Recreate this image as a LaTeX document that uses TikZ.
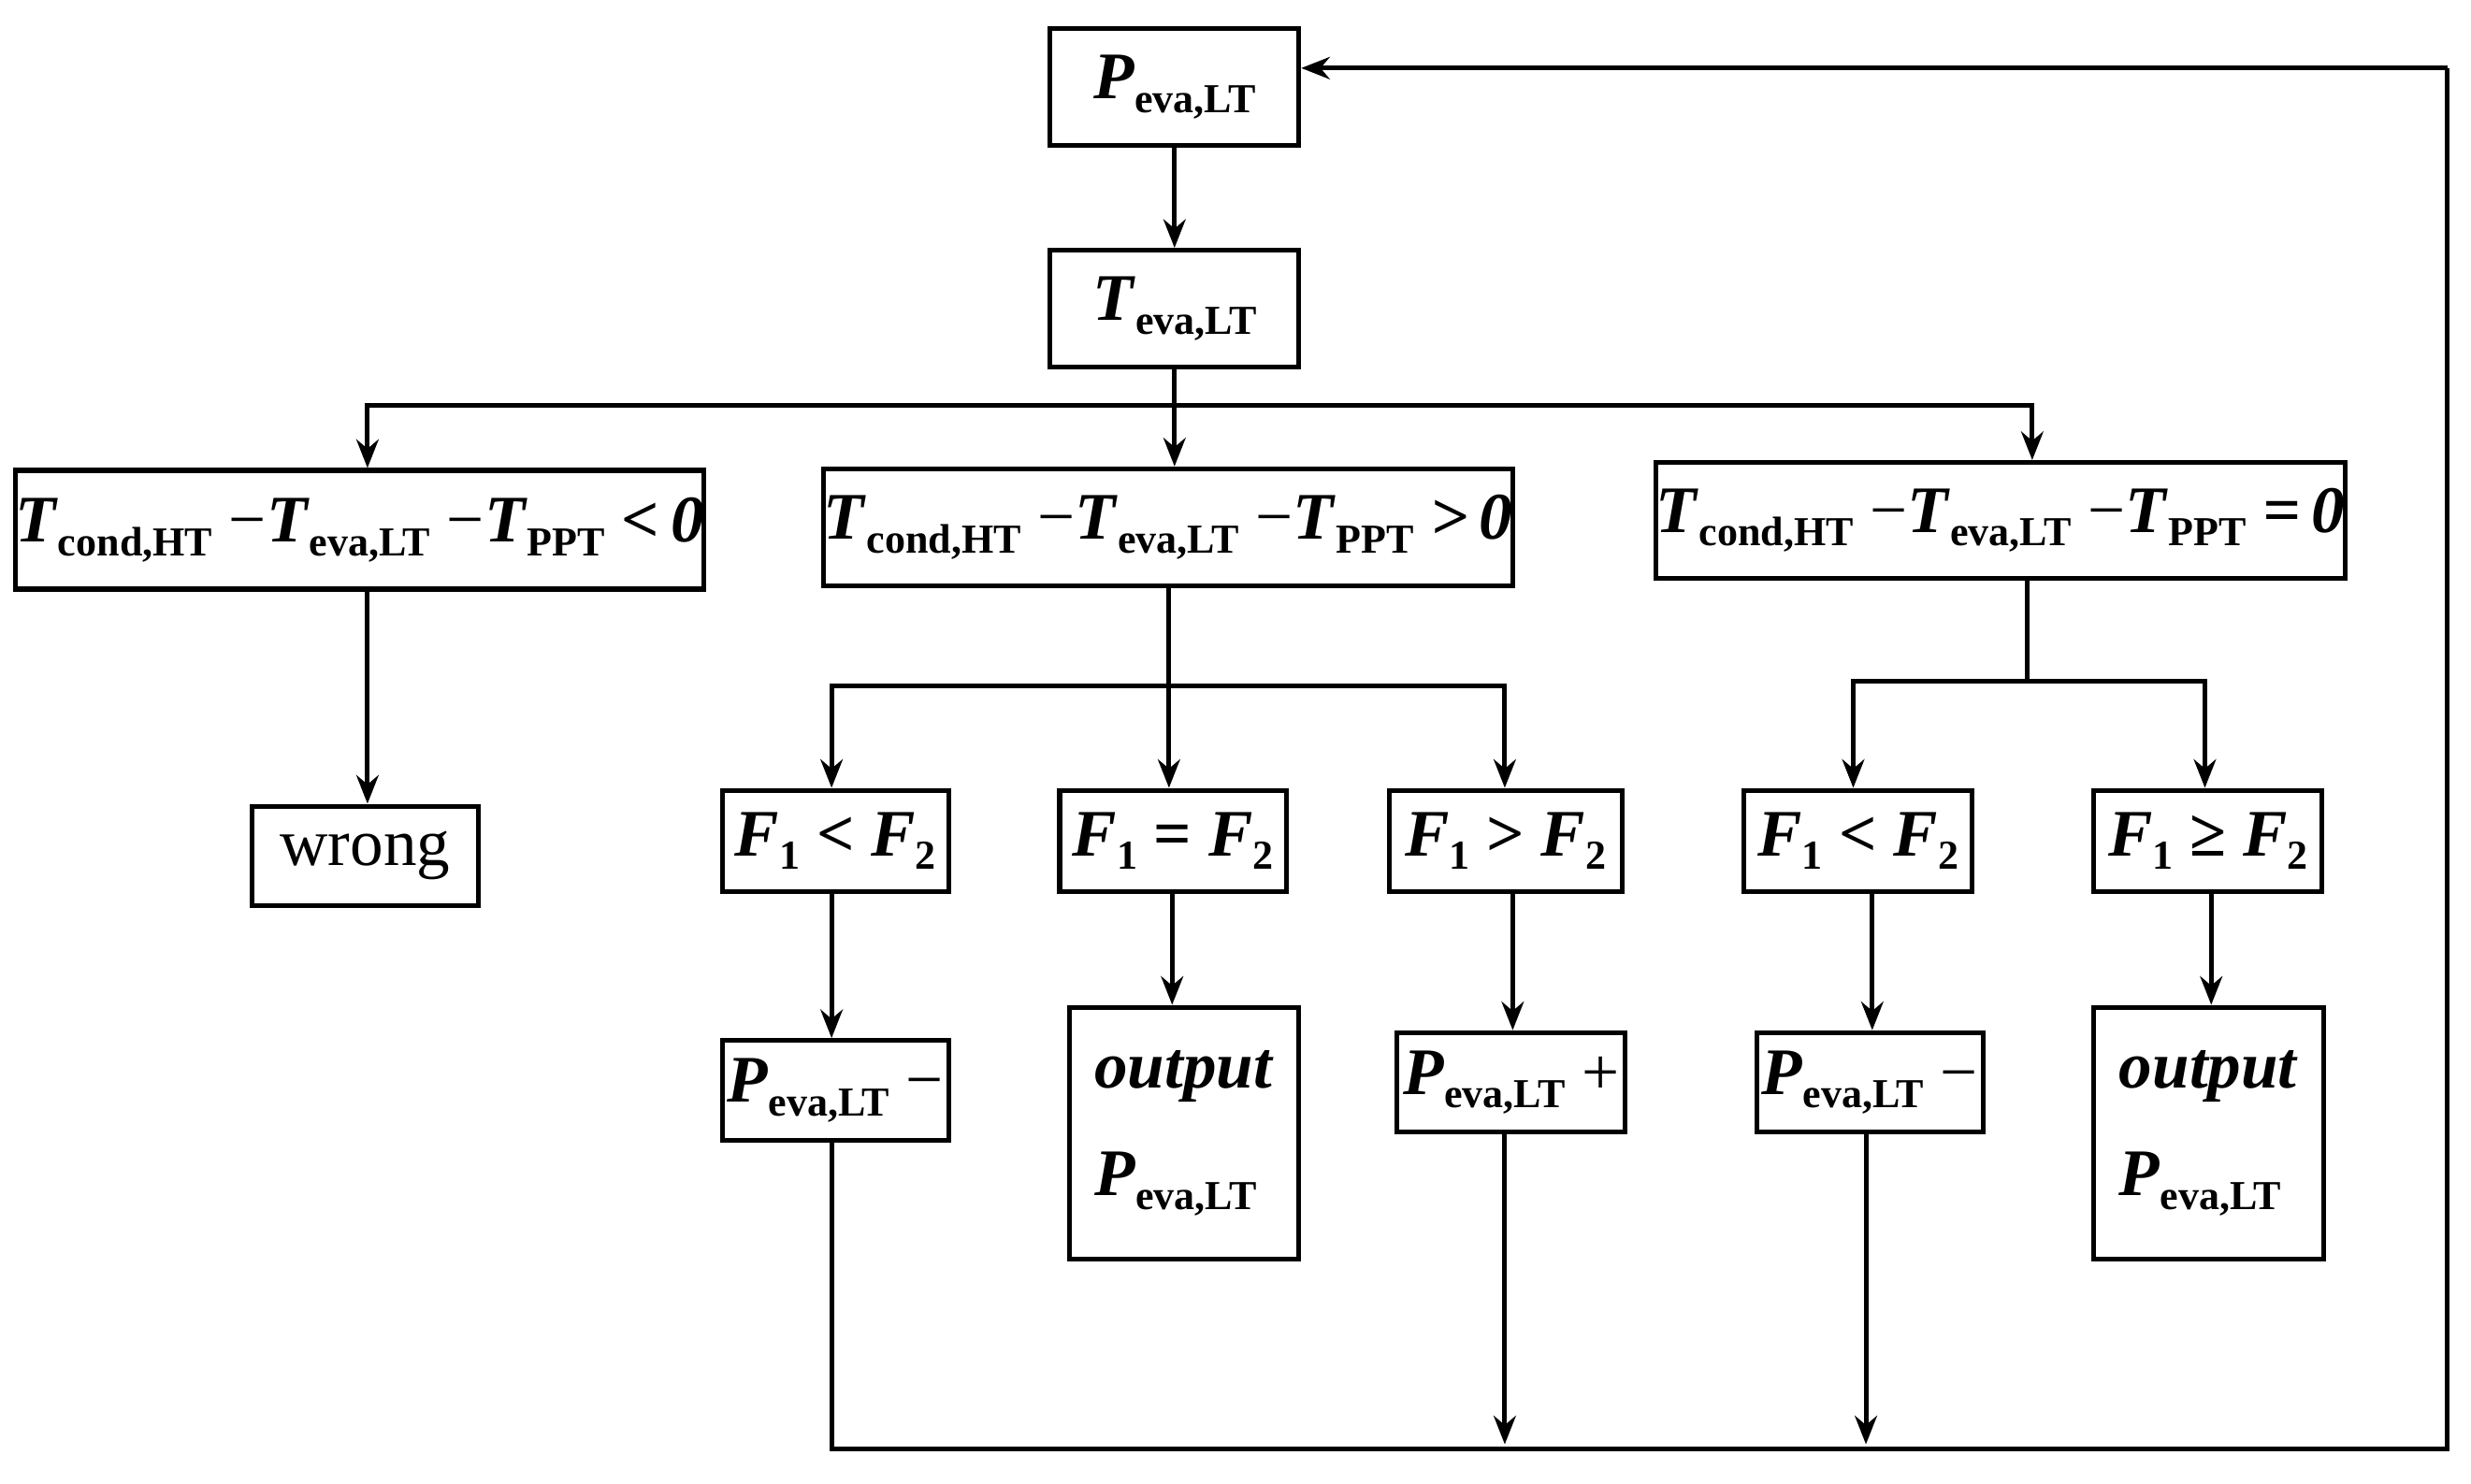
\documentclass[tikz,border=0pt]{standalone}
\usepackage{fontspec}
\setmainfont{Liberation Serif}
\usetikzlibrary{arrows.meta}
\newcommand{\V}[2]{\textbf{\textit{#1}}\raisebox{-0.45ex}{\fontsize{13}{14}\selectfont\textbf{#2}}}
\begin{document}
\begin{tikzpicture}[x=0.5pt,y=-0.5pt,
 bx/.style={draw,line width=1.5pt,inner sep=0pt,font=\fontsize{21}{24}\selectfont},
 ar/.style={line width=1.5pt,-{Stealth[length=9pt,width=7pt]}},
 ln/.style={line width=1.5pt}]
\useasboundingbox (0,0) rectangle (1560,937);
\node[bx,minimum width=78.5pt,minimum height=37pt] (p) at (741.5,55) {\V{P}{eva,LT}};
\node[bx,minimum width=78.5pt,minimum height=37pt] (t) at (741.5,195) {\V{T}{eva,LT}};
\node[bx,minimum width=213pt,minimum height=37.5pt] (c1) at (227,334.5) {\V{T}{cond,HT} −\V{T}{eva,LT} −\V{T}{PPT} \textbf{\textit{<\,0}}};
\node[bx,minimum width=212.5pt,minimum height=37pt] (c2) at (737.5,333) {\V{T}{cond,HT} −\V{T}{eva,LT} −\V{T}{PPT} \textbf{\textit{>\,0}}};
\node[bx,minimum width=213pt,minimum height=36.5pt] (c3) at (1263,328.5) {\V{T}{cond,HT} −\V{T}{eva,LT} −\V{T}{PPT} \textbf{\textit{=\,0}}};
\node[bx,minimum width=71.5pt,minimum height=31.5pt] (w) at (230.5,540.5) {wrong};
\node[bx,minimum width=71.5pt,minimum height=32pt] (f1) at (527.5,531) {\V{F}{1} \textbf{<} \V{F}{2}};
\node[bx,minimum width=71.5pt,minimum height=32pt] (f2) at (740.5,531) {\V{F}{1} \textbf{=} \V{F}{2}};
\node[bx,minimum width=73.5pt,minimum height=32pt] (f3) at (950.5,531) {\V{F}{1} \textbf{>} \V{F}{2}};
\node[bx,minimum width=72pt,minimum height=32pt] (f4) at (1173,531) {\V{F}{1} \textbf{<} \V{F}{2}};
\node[bx,minimum width=72pt,minimum height=32pt] (f5) at (1394,531) {\V{F}{1} \textbf{≥} \V{F}{2}};
\node[bx,minimum width=71.5pt,minimum height=31.5pt] (m1) at (527.5,688.5) {\V{P}{eva,LT} −};
\node[bx,minimum width=72.5pt,minimum height=79.5pt,align=left] (o1) at (747.5,715.5) {\textbf{\textit{output}}\\[10pt]\V{P}{eva,LT}};
\node[bx,minimum width=72pt,minimum height=31.5pt] (m2) at (954,683.5) {\V{P}{eva,LT} +};
\node[bx,minimum width=71.5pt,minimum height=31.5pt] (m3) at (1180.5,683.5) {\V{P}{eva,LT} −};
\node[bx,minimum width=72.5pt,minimum height=79.5pt,align=left] (o2) at (1394.5,715.5) {\textbf{\textit{output}}\\[10pt]\V{P}{eva,LT}};
\coordinate (ta) at (741.5,256);
\coordinate (ca) at (738,433);
\coordinate (cb) at (1280,430);
\coordinate (bl) at (525,915);
\coordinate (br) at (1545,915);
\coordinate (tr) at (1545,43);
\draw[ar] (p) -- (t);
\draw[ln] (t.south) -- (ta);
\draw[ar] (ta) -| (c1.north -| 232,0);
\draw[ar] (ta) -| (c3.north -| 1283,0);
\draw[ar] (ta) -- (c2.north -| ta);
\draw[ar] (c1.south -| 232,0) -- (w.north -| 232,0);
\draw[ln] (c2.south -| ca) -- (ca);
\draw[ar] (ca) -| (f1.north -| 525,0);
\draw[ar] (ca) -| (f3.north -| 950,0);
\draw[ar] (ca) -- (f2.north -| ca);
\draw[ln] (c3.south -| cb) -- (cb);
\draw[ar] (cb) -| (f4.north -| 1170,0);
\draw[ar] (cb) -| (f5.north -| 1392,0);
\draw[ar] (f1.south -| 525,0) -- (m1.north -| 525,0);
\draw[ar] (f2.south -| 740,0) -- (o1.north -| 740,0);
\draw[ar] (f3.south -| 955,0) -- (m2.north -| 955,0);
\draw[ar] (f4.south -| 1182,0) -- (m3.north -| 1182,0);
\draw[ar] (f5.south -| 1396,0) -- (o2.north -| 1396,0);
\draw[ln] (m1.south -| bl) -- (bl) -- (br) -- (tr);
\draw[ar] (tr) -- (p.east |- tr);
\draw[ar] (m2.south -| 950,0) -- (950,912);
\draw[ar] (m3.south -| 1178,0) -- (1178,912);
\end{tikzpicture}
\end{document}
